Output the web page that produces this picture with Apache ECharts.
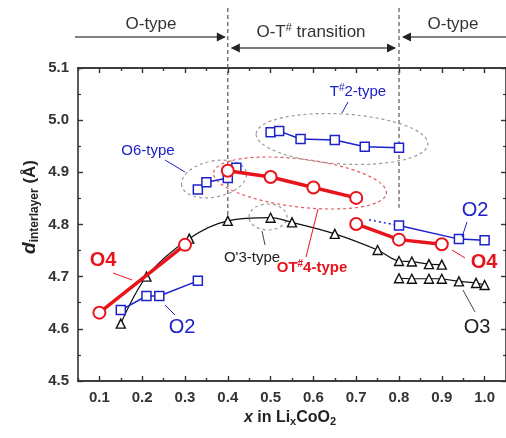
<!DOCTYPE html>
<html><head><meta charset="utf-8">
<script src="https://cdn.jsdelivr.net/npm/echarts@6/dist/echarts.min.js"></script>
<style>html,body{margin:0;padding:0;background:#fff}#c{width:506px;height:438px}</style>
</head><body><div id="c"></div>
<script>
// ---- data ----
const xTickValues = [0.1,0.2,0.3,0.4,0.5,0.6,0.7,0.8,0.9,1.0];
const xMinorValues = [0.05,0.15,0.25,0.35,0.45,0.55,0.65,0.75,0.85,0.95];
const yRange = [4.5, 5.1];

const o3Main = [[0.15,4.61],[0.21,4.70],[0.31,4.773],[0.40,4.807],[0.50,4.813],[0.55,4.804],[0.65,4.782],[0.75,4.751],[0.80,4.730],[0.83,4.729],[0.87,4.724],[0.90,4.723]];
const o3Low = [[0.80,4.697],[0.83,4.696],[0.87,4.696],[0.90,4.696],[0.94,4.691],[0.98,4.688],[1.00,4.684]];
const o4Left = [[0.10,4.631],[0.30,4.761]];
const ot4 = [[0.40,4.903],[0.50,4.891],[0.60,4.871],[0.70,4.851]];
const o4Right = [[0.70,4.801],[0.80,4.771],[0.90,4.762]];
const o2Left = [[0.15,4.636],[0.21,4.663],[0.24,4.663],[0.33,4.692]];
const o6 = [[0.33,4.867],[0.35,4.881],[0.40,4.889],[0.42,4.909]];
const t2 = [[0.50,4.977],[0.52,4.979],[0.57,4.964],[0.65,4.962],[0.72,4.949],[0.80,4.947]];
const o2Right = [[0.80,4.798],[0.94,4.772],[1.00,4.770]];
const o2Dotted = [[0.73,4.809],[0.80,4.798]];
const boundaries = [0.4, 0.8];

const FONT = '"Liberation Sans", Arial, sans-serif';
const BLUE = '#1c22c8', RED = '#e8141c', BLACK = '#111', AX = '#333';

const chart = echarts.init(document.getElementById('c'), null, {renderer:'canvas'});

function xAx(pos, values, len, labels){
  return {type:'value', position:pos, min:0.05, max:1.05,
    axisLine:{show:true, onZero:false, lineStyle:{color:AX, width:1.6}},
    axisTick:{show:true, inside:true, length:len, customValues:values, lineStyle:{color:AX, width:1.4}},
    axisLabel:{show:labels, customValues:values, margin:9, color:'#333', fontFamily:FONT, fontWeight:'bold', fontSize:15,
      formatter:v=>v.toFixed(1)},
    splitLine:{show:false}};
}
function yAx(pos, labels){
  return {type:'value', position:pos, min:yRange[0], max:yRange[1], interval:0.1,
    axisLine:{show:true, onZero:false, lineStyle:{color:AX, width:1.6}},
    axisTick:{show:true, inside:true, length:5, lineStyle:{color:AX, width:1.4}},
    minorTick:{show:true, splitNumber:2, length:3, lineStyle:{color:AX, width:1.2}},
    axisLabel:{show:labels, margin:9, color:'#333', fontFamily:FONT, fontWeight:'bold', fontSize:15,
      formatter:v=>v.toFixed(1)},
    splitLine:{show:false}};
}
function ser(data, color, symbol, size, lw, extra){
  return Object.assign({type:'line', data:data, symbol:symbol, symbolSize:size,
    lineStyle:{color:color, width:lw}, itemStyle:{color:'#fff', borderColor:color, borderWidth: extra && extra.bw || 1.4},
    emphasis:{disabled:true}, animation:false, xAxisIndex:0, yAxisIndex:0}, extra||{});
}

const option = {
  animation:false,
  grid:{left:78, right:-2, top:68, bottom:57},
  xAxis:[xAx('bottom', xTickValues, 5, true), xAx('bottom', xMinorValues, 3, false),
         xAx('top', xTickValues, 5, false), xAx('top', xMinorValues, 3, false)],
  yAxis:[yAx('left', true), yAx('right', false)],
  series:[
    ser(o3Main, BLACK, 'triangle', 9, 1.2, {smooth:0.35, z:2}),
    ser(o3Low, BLACK, 'triangle', 9, 1.2, {z:2}),
    ser(o2Left, BLUE, 'rect', 9, 1.5, {z:3, bw:1.5}),
    ser(o6, BLUE, 'rect', 9, 1.5, {z:3, bw:1.5}),
    ser(t2, BLUE, 'rect', 9, 1.5, {z:3, bw:1.5}),
    ser(o2Right, BLUE, 'rect', 9, 1.5, {z:3, bw:1.5}),
    {type:'line', data:o2Dotted, symbol:'none', lineStyle:{color:BLUE, width:1.5, type:[2,3]}, animation:false, z:3},
    ser(o4Left, RED, 'circle', 12, 3.5, {z:4, bw:2}),
    ser(ot4, RED, 'circle', 12, 3.5, {z:4, bw:2}),
    ser(o4Right, RED, 'circle', 12, 3.5, {z:4, bw:2})
  ]
};
chart.setOption(option);

// ---- annotations (positioned after axes exist) ----
const px = (x,y)=>chart.convertToPixel({xAxisIndex:0, yAxisIndex:0},[x,y]);
const g = [];
const GREY = '#888';
// vertical dashed boundaries
const bEnds = [4.812, 4.832];
boundaries.forEach((b,i)=>{
  const top = px(b, yRange[1]); const end = px(b, bEnds[i]);
  g.push({type:'line', shape:{x1:top[0], y1:8, x2:top[0], y2:end[1]}, style:{stroke:'#555', lineWidth:1.2, lineDash:[4,3]}, z:1});
});
const xa = px(0.4,5)[0], xb = px(0.8,5)[0];
function arrowHead(x,y,dir){ // dir 1 = pointing right
  return {type:'polygon', shape:{points:[[x,y],[x-dir*9,y-4.5],[x-dir*9,y+4.5]]}, style:{fill:'#222'}};
}
g.push({type:'line', shape:{x1:75, y1:37, x2:xa-3, y2:37}, style:{stroke:'#555', lineWidth:1.5}});
g.push(arrowHead(xa-2,37,1));
g.push({type:'line', shape:{x1:xa+4, y1:48, x2:xb-4, y2:48}, style:{stroke:'#555', lineWidth:1.5}});
g.push(arrowHead(xa+3,48,-1));
g.push(arrowHead(xb-3,48,1));
g.push({type:'line', shape:{x1:xb+4, y1:37, x2:510, y2:37}, style:{stroke:'#555', lineWidth:1.5}});
g.push(arrowHead(xb+3,37,-1));
function txt(x,y,text,opts){
  return {type:'text', x:x, y:y, z:10, style:Object.assign({text:text, fontFamily:FONT, fontSize:15, fill:'#222', align:'center', verticalAlign:'middle'}, opts||{})};
}
g.push(txt(151,24,'O-type',{fontSize:17, fill:'#333'}));
g.push(txt(453,24,'O-type',{fontSize:17, fill:'#333'}));
g.push(txt(311,32,'{a|O-T}{s|#}{a| transition}',{fontSize:17, rich:{a:{fontSize:17, fontFamily:FONT, fill:'#333'}, s:{fontSize:11, fontFamily:FONT, fill:'#333', padding:[0,0,8,0]}}}));

// ellipses
function ell(cx,cy,rx,ry,rot,color){
  return {type:'ellipse', x:cx, y:cy, rotation:rot, shape:{cx:0, cy:0, rx:rx, ry:ry}, style:{fill:null, stroke:color, lineWidth:1.2, lineDash:[3,3]}, z:1};
}
g.push(ell(214,179,33,18,0.2,'#999'));
g.push(ell(342,139,86,25,-0.06,'#999'));
g.push(ell(300,183,87,24,-0.12,'#e05a60'));
g.push(ell(268,217,19,13,0,'#999'));

// leader lines
function lead(x1,y1,x2,y2,c){ return {type:'line', shape:{x1,y1,x2,y2}, style:{stroke:c, lineWidth:1}, z:5}; }
g.push(lead(348,102,342,113,BLUE));
g.push(lead(165,160,185,172,BLUE));
g.push(lead(265,245,262,231,'#444'));
g.push(lead(318,209,306,257,RED));
g.push(lead(113,273,132,280,RED));
g.push(lead(165,305,175,315,BLUE));
g.push(lead(467,222,462,237,BLUE));
g.push(lead(452,250,465,258,RED));
g.push(lead(463,290,475,312,'#444'));

// labels
const sup = (c,b)=>({fontSize:10, fontFamily:FONT, fill:c, fontWeight:b?'bold':'normal', padding:[0,0,8,0]});
g.push(txt(358,92,'{a|T}{s|#}{a|2-type}',{rich:{a:{fontSize:15, fontFamily:FONT, fill:BLUE}, s:sup(BLUE)}}));
g.push(txt(148,151,'O6-type',{fill:BLUE, fontSize:15}));
g.push(txt(252,258,"O'3-type",{fill:'#222', fontSize:15}));
g.push(txt(312,268,'{a|OT}{s|#}{a|4-type}',{rich:{a:{fontSize:15, fontFamily:FONT, fill:RED, fontWeight:'bold'}, s:sup(RED,true)}}));
g.push(txt(103,260,'O4',{fill:RED, fontSize:20, fontWeight:'bold'}));
g.push(txt(182,327,'O2',{fill:BLUE, fontSize:20}));
g.push(txt(475,210,'O2',{fill:BLUE, fontSize:20}));
g.push(txt(484,262,'O4',{fill:RED, fontSize:20, fontWeight:'bold'}));
g.push(txt(477,327,'O3',{fill:'#222', fontSize:20}));

// axis titles
g.push({type:'text', x:290, y:418, z:10, style:{text:'{i|x}{a| in Li}{s|x}{a|CoO}{s|2}', align:'center', verticalAlign:'middle',
  rich:{i:{fontSize:16, fontFamily:FONT, fontWeight:'bold', fontStyle:'italic', fill:'#222'},
        a:{fontSize:16, fontFamily:FONT, fontWeight:'bold', fill:'#222'},
        s:{fontSize:11, fontFamily:FONT, fontWeight:'bold', fill:'#222', padding:[8,0,0,0]}}}});
g.push({type:'text', x:30, y:207, rotation:Math.PI/2, z:10, style:{text:'{d|d}{s|interlayer}{a| (Å)}', align:'center', verticalAlign:'middle',
  rich:{d:{fontSize:19, fontFamily:FONT, fontWeight:'bold', fontStyle:'italic', fill:'#222'},
        a:{fontSize:17, fontFamily:FONT, fontWeight:'bold', fill:'#222'},
        s:{fontSize:12, fontFamily:FONT, fontWeight:'bold', fill:'#222', padding:[9,0,0,0]}}}});

chart.setOption({graphic:{elements:g}});
</script>
</body></html>
